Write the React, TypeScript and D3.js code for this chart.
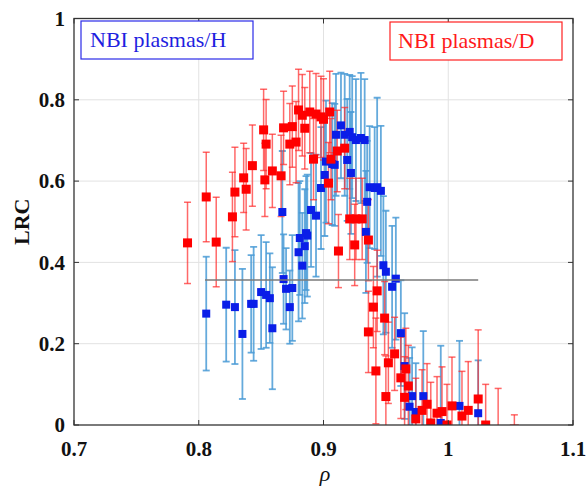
import React from "react";
import * as d3 from "d3";

// ---- data: NBI plasmas / D (red) ----
const dRho = [0.791,0.806,0.814,0.827,0.829,0.836,0.838,0.843,0.852,0.854,0.853,0.859,0.866,0.868,0.873,0.875,0.878,0.880,0.883,0.885,0.889,0.892,0.894,0.898,0.900,0.905,0.906,0.911,0.917,0.904,0.921,0.926,0.931,0.936,0.912,0.925,0.943,0.940,0.936,0.949,0.942,0.950,0.957,0.952,0.966,0.962,0.968,0.965,0.974,0.979,0.983,0.986,0.991,0.995,0.999,1.003,1.011,1.016,1.024,1.030,1.040,1.053];
const dLrc = [0.448,0.561,0.450,0.512,0.573,0.608,0.580,0.638,0.726,0.691,0.603,0.625,0.613,0.731,0.691,0.734,0.696,0.775,0.762,0.730,0.770,0.654,0.765,0.758,0.752,0.770,0.654,0.674,0.681,0.595,0.507,0.507,0.507,0.455,0.428,0.443,0.330,0.290,0.229,0.263,0.133,0.070,0.175,0.153,0.138,0.116,0.096,0.068,0.015,0.036,0.051,0.005,0.029,0.033,0.000,0.047,0.022,0.036,0.064,0.000,-0.030,-0.010];
const dErr = [0.10,0.11,0.11,0.11,0.11,0.085,0.10,0.10,0.10,0.11,0.09,0.09,0.10,0.09,0.10,0.10,0.10,0.10,0.10,0.10,0.10,0.10,0.10,0.10,0.10,0.10,0.10,0.10,0.10,0.10,0.10,0.10,0.10,0.10,0.09,0.10,0.10,0.10,0.10,0.09,0.13,0.10,0.09,0.10,0.10,0.10,0.10,0.10,0.10,0.10,0.10,0.10,0.09,0.11,0.10,0.12,0.11,0.12,0.17,0.10,0.12,0.035];

// ---- data: NBI plasmas / H (blue) ----
const hRho = [0.806,0.822,0.829,0.835,0.842,0.844,0.850,0.854,0.857,0.859,0.867,0.868,0.870,0.875,0.873,0.880,0.885,0.883,0.887,0.886,0.881,0.890,0.894,0.898,0.901,0.902,0.907,0.909,0.910,0.914,0.917,0.919,0.921,0.922,0.923,0.926,0.930,0.933,0.934,0.935,0.937,0.941,0.943,0.946,0.948,0.950,0.955,0.958,0.962,0.965,0.971,0.974,0.969,0.980,0.994,1.009,1.024];
const hLrc = [0.274,0.296,0.290,0.224,0.298,0.298,0.327,0.320,0.312,0.238,0.524,0.359,0.335,0.337,0.290,0.425,0.440,0.392,0.466,0.472,0.460,0.529,0.515,0.583,0.615,0.648,0.642,0.640,0.714,0.737,0.714,0.652,0.721,0.620,0.708,0.701,0.706,0.701,0.475,0.549,0.585,0.583,0.585,0.576,0.393,0.377,0.340,0.360,0.226,0.145,0.071,0.032,0.045,0.071,0.005,0.047,0.029];
const hErr = [0.14,0.14,0.14,0.16,0.12,0.14,0.14,0.13,0.11,0.15,0.15,0.11,0.10,0.13,0.09,0.17,0.14,0.13,0.15,0.14,0.14,0.14,0.15,0.15,0.15,0.15,0.15,0.15,0.15,0.13,0.15,0.15,0.14,0.15,0.15,0.15,0.16,0.15,0.15,0.15,0.15,0.15,0.22,0.16,0.17,0.15,0.15,0.15,0.13,0.13,0.12,0.12,0.12,0.16,0.19,0.16,0.13];

const xTickVals = [0.7, 0.8, 0.9, 1.0, 1.1];
const xTickLabels = ["0.7", "0.8", "0.9", "1", "1.1"];
const yTickVals = [0, 0.2, 0.4, 0.6, 0.8, 1];
const yTickLabels = ["0", "0.2", "0.4", "0.6", "0.8", "1"];
const refLevel = 0.357;
const refRange = [0.805, 1.024];

const W = 587, H = 489;
const L = 74, R = 573, T = 18.5, B = 425;

export default function App() {
  const x = d3.scaleLinear().domain([0.7, 1.1]).range([L, R]);
  const y = d3.scaleLinear().domain([0, 1]).range([B, T]);
  const serif = "'Liberation Serif', 'Times New Roman', serif";

  const bars = (rho: number[], v: number[], e: number[], color: string, op: number, sw: number, cap: number, key: string) =>
    rho.map((r, i) => {
      const cx = x(r), y1 = y(v[i] + e[i]), y2 = y(v[i] - e[i]);
      return (
        <g key={key + i} stroke={color} strokeOpacity={op} strokeWidth={sw}>
          <line x1={cx} x2={cx} y1={y1} y2={y2} />
          <line x1={cx - cap} x2={cx + cap} y1={y1} y2={y1} />
          <line x1={cx - cap} x2={cx + cap} y1={y2} y2={y2} />
        </g>
      );
    });

  const marks = (rho: number[], v: number[], color: string, s: number, key: string) =>
    rho.map((r, i) => (
      <rect key={key + i} x={x(r) - s / 2} y={y(v[i]) - s / 2} width={s} height={s} fill={color} />
    ));

  return (
    <svg width={W} height={H} style={{ position: "absolute", left: 0, top: 0, background: "#fff" }}>
      <defs>
        <clipPath id="plot">
          <rect x={L} y={T} width={R - L} height={B - T} />
        </clipPath>
      </defs>
      {xTickVals.slice(1, -1).map((t) => (
        <line key={"gx" + t} x1={x(t)} x2={x(t)} y1={T} y2={B} stroke="#e2e2e2" strokeWidth={1} />
      ))}
      {yTickVals.slice(1, -1).map((t) => (
        <line key={"gy" + t} x1={L} x2={R} y1={y(t)} y2={y(t)} stroke="#e2e2e2" strokeWidth={1} />
      ))}
      <g clipPath="url(#plot)">
        {bars(hRho, hLrc, hErr, "#4a9bd6", 0.85, 1.8, 3.5, "hb")}
        {bars(dRho, dLrc, dErr, "#ff2a2a", 0.7, 1.5, 3.5, "db")}
        {marks(hRho, hLrc, "#0a1ee8", 8, "hm")}
        {marks(dRho, dLrc, "#ff0000", 9, "dm")}
        <line x1={x(refRange[0])} x2={x(refRange[1])} y1={y(refLevel)} y2={y(refLevel)} stroke="#7a7a7a" strokeWidth={1.5} />
      </g>
      <rect x={L} y={T} width={R - L} height={B - T} fill="none" stroke="#333" strokeWidth={1.3} />
      {xTickVals.map((t) => (
        <g key={"xt" + t} stroke="#333" strokeWidth={1}>
          <line x1={x(t)} x2={x(t)} y1={B} y2={B - 5} />
          <line x1={x(t)} x2={x(t)} y1={T} y2={T + 5} />
        </g>
      ))}
      {yTickVals.map((t) => (
        <g key={"yt" + t} stroke="#333" strokeWidth={1}>
          <line x1={L} x2={L + 5} y1={y(t)} y2={y(t)} />
          <line x1={R} x2={R - 5} y1={y(t)} y2={y(t)} />
        </g>
      ))}
      {xTickVals.map((t, i) => (
        <text key={"xl" + t} x={x(t)} y={456} textAnchor="middle" fontFamily={serif} fontWeight="bold" fontSize={21} fill="#111">
          {xTickLabels[i]}
        </text>
      ))}
      {yTickVals.map((t, i) => (
        <text key={"yl" + t} x={65} y={y(t)} dy="0.35em" textAnchor="end" fontFamily={serif} fontWeight="bold" fontSize={21} fill="#111">
          {yTickLabels[i]}
        </text>
      ))}
      <text x={325} y={481} textAnchor="middle" fontFamily={serif} fontStyle="italic" fontSize={22} fill="#111">ρ</text>
      <text transform={`translate(29,${(T + B) / 2}) rotate(-90)`} textAnchor="middle" fontFamily={serif} fontWeight="bold" fontSize={22} fill="#111">LRC</text>
      <rect x={81} y={21} width={172} height={38} fill="#fff" stroke="#2a2ae8" strokeWidth={1.2} />
      <text x={90} y={47} fontFamily={serif} fontSize={22} fill="#1f1fe0">NBI plasmas/H</text>
      <rect x={390} y={22} width={172} height={38} fill="#fff" stroke="#ff2020" strokeWidth={1.2} />
      <text x={398} y={48} fontFamily={serif} fontSize={22} fill="#ff1a1a">NBI plasmas/D</text>
    </svg>
  );
}
